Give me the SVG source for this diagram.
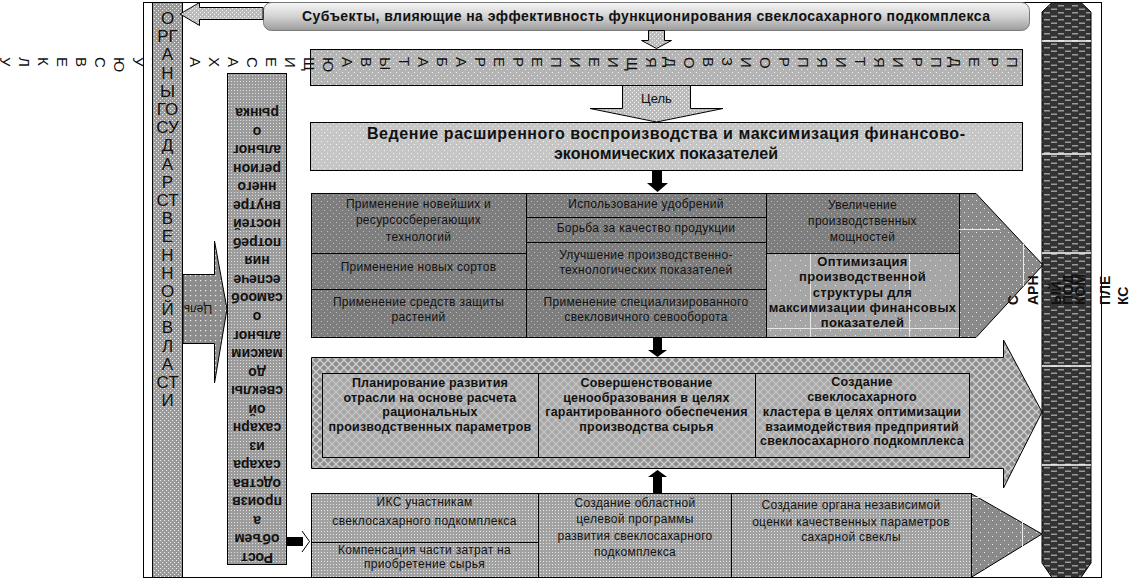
<svg xmlns="http://www.w3.org/2000/svg" width="1131" height="579" viewBox="0 0 1131 579">
<defs>
<pattern id="pCol" width="4" height="4" patternUnits="userSpaceOnUse"><rect width="4" height="4" fill="#9a9a9a"/><rect width="1" height="1" fill="#eeeeee"/><rect x="2" y="2" width="1" height="1" fill="#eeeeee"/></pattern>
<pattern id="pBox" width="3" height="3" patternUnits="userSpaceOnUse"><rect width="3" height="3" fill="#9c9c9c"/><rect width="1" height="1" fill="#dddddd"/></pattern>
<pattern id="pTop" width="6" height="6" patternUnits="userSpaceOnUse"><rect width="6" height="6" fill="#b4b4b4"/><rect width="1" height="1" fill="#f0f0f0"/><rect x="3" y="3" width="1" height="1" fill="#f0f0f0"/></pattern>
<pattern id="pGoal" width="6" height="6" patternUnits="userSpaceOnUse"><rect width="6" height="6" fill="#c6c6c6"/><rect width="1" height="1" fill="#f4f4f4"/><rect x="3" y="3" width="1" height="1" fill="#f4f4f4"/></pattern>
<pattern id="pR1" width="6" height="6" patternUnits="userSpaceOnUse"><rect width="6" height="6" fill="#7e7e7e"/><rect width="1" height="1" fill="#bcbcbc"/><rect x="3" y="3" width="1" height="1" fill="#bcbcbc"/></pattern>
<pattern id="pOpt" width="10" height="10" patternUnits="userSpaceOnUse"><rect width="10" height="10" fill="#a6a6a6"/><rect width="1" height="1" fill="#eeeeee"/><rect x="5" y="5" width="1" height="1" fill="#eeeeee"/></pattern>
<pattern id="pHead" width="8" height="8" patternUnits="userSpaceOnUse"><rect width="8" height="8" fill="#8a8a8a"/><rect width="1" height="1" fill="#eeeeee"/><rect x="4" y="4" width="1" height="1" fill="#eeeeee"/></pattern>
<pattern id="pChk" width="8" height="8" patternUnits="userSpaceOnUse"><rect width="8" height="8" fill="#8e8e8e"/><path d="M0 0L8 8M8 0L0 8" stroke="#d0d0d0" stroke-width="1.3"/></pattern>
<pattern id="pChk2" width="8" height="8" patternUnits="userSpaceOnUse"><rect width="8" height="8" fill="#a8a8a8"/><path d="M0 0L8 8M8 0L0 8" stroke="#c8c8c8" stroke-width="1.1"/></pattern>
<pattern id="pR3" width="3" height="3" patternUnits="userSpaceOnUse"><rect width="3" height="3" fill="#a2a2a2"/><rect width="1" height="1" fill="#e6e6e6"/></pattern>
<pattern id="pLight" width="4" height="4" patternUnits="userSpaceOnUse"><rect width="4" height="4" fill="#bcbcbc"/><rect width="1" height="1" fill="#f4f4f4"/><rect x="2" y="2" width="1" height="1" fill="#f4f4f4"/></pattern>
<pattern id="pArr" width="5" height="5" patternUnits="userSpaceOnUse"><rect width="5" height="5" fill="#8c8c8c"/><rect width="1.2" height="1.2" fill="#f0f0f0"/></pattern>
<pattern id="pDark" width="14" height="7" patternUnits="userSpaceOnUse"><rect width="14" height="7" fill="#333333"/><rect x="1" y="1.5" width="6" height="1.5" fill="#9a9a9a"/><rect x="8" y="5" width="6" height="1.5" fill="#9a9a9a"/></pattern>
<linearGradient id="gBan" x1="0" y1="0" x2="0" y2="1"><stop offset="0" stop-color="#f6f6f6"/><stop offset="0.5" stop-color="#d2d2d2"/><stop offset="1" stop-color="#9c9c9c"/></linearGradient>
</defs>
<style>
.t{font-family:"Liberation Sans",Arial,sans-serif;fill:#111}
.c{text-anchor:middle}
.n{font-size:12px;letter-spacing:0.3px}
.bb{font-weight:bold;font-size:12.5px;letter-spacing:0.2px}
.lb{font-size:14px;font-weight:bold}
.k{stroke:#000;stroke-width:1}
.blk{fill:#000}
</style>
<rect width="1131" height="579" fill="#fff"/>
<rect x="143.5" y="2.5" width="958" height="575" fill="#fff" stroke="#000"/>

<g id="enterprises">
<rect x="310.5" y="49.5" width="712" height="36" fill="url(#pTop)" class="k"/>
<text class="t" y="57" font-size="15" rotate="90" x="1007 988 969 950 931 912 893 874 855 836 817 798 779 760 741 722 703 684 665 646 627 608 589 570 551 532 513 494 475 456 437 418 399 380 361 342 323 304 285 266 247 228 209 190 171 152 133 114 95 76 57 38 19 0">ПРЕДПРИЯТИЯПРОИЗВОДЯЩИЕИПЕРЕРАБАТЫВАЮЩИЕСАХАРНУЮСВЕКЛУ</text>
</g>

<g id="organy">
<rect x="152.5" y="2.5" width="30" height="575" fill="url(#pCol)" class="k"/>
<text class="t c" x="167.5" y="24" font-size="17"><tspan x="167.5">О</tspan><tspan x="167.5" dy="18.2">РГ</tspan><tspan x="167.5" dy="18.2">А</tspan><tspan x="167.5" dy="18.2">Н</tspan><tspan x="167.5" dy="18.2">Ы</tspan><tspan x="167.5" dy="18.2">ГО</tspan><tspan x="167.5" dy="18.2">СУ</tspan><tspan x="167.5" dy="18.2">Д</tspan><tspan x="167.5" dy="18.2">А</tspan><tspan x="167.5" dy="18.2">Р</tspan><tspan x="167.5" dy="18.2">СТ</tspan><tspan x="167.5" dy="18.2">В</tspan><tspan x="167.5" dy="18.2">Е</tspan><tspan x="167.5" dy="18.2">Н</tspan><tspan x="167.5" dy="18.2">Н</tspan><tspan x="167.5" dy="18.2">О</tspan><tspan x="167.5" dy="18.2">Й</tspan><tspan x="167.5" dy="18.2">В</tspan><tspan x="167.5" dy="18.2">Л</tspan><tspan x="167.5" dy="18.2">А</tspan><tspan x="167.5" dy="18.2">СТ</tspan><tspan x="167.5" dy="18.2">И</tspan></text>
</g>

<g id="subjects">
<rect x="263.5" y="2.5" width="766" height="28" rx="8" fill="url(#gBan)" stroke="#7a7a7a"/>
<text class="t" x="302" y="21" font-size="14" font-weight="bold" textLength="688" lengthAdjust="spacing">Субъекты, влияющие на эффективность функционирования свеклосахарного подкомплекса</text>
</g>

<g id="rost">
<rect x="227.5" y="73.5" width="59" height="491" fill="url(#pBox)" class="k"/>
<text class="t c" font-size="14" font-weight="bold" transform="rotate(180 257 334.5)"><tspan x="257" y="116">Рост</tspan><tspan x="257" dy="18.54">объем</tspan><tspan x="257" dy="18.54">а</tspan><tspan x="257" dy="18.54">произв</tspan><tspan x="257" dy="18.54">одства</tspan><tspan x="257" dy="18.54">сахара</tspan><tspan x="257" dy="18.54">из</tspan><tspan x="257" dy="18.54">сахарн</tspan><tspan x="257" dy="18.54">ой</tspan><tspan x="257" dy="18.54">свеклы</tspan><tspan x="257" dy="18.54">до</tspan><tspan x="257" dy="18.54">максим</tspan><tspan x="257" dy="18.54">альног</tspan><tspan x="257" dy="18.54">о</tspan><tspan x="257" dy="18.54">самооб</tspan><tspan x="257" dy="18.54">еспече</tspan><tspan x="257" dy="18.54">ния</tspan><tspan x="257" dy="18.54">потреб</tspan><tspan x="257" dy="18.54">ностей</tspan><tspan x="257" dy="18.54">внутре</tspan><tspan x="257" dy="18.54">ннего</tspan><tspan x="257" dy="18.54">регион</tspan><tspan x="257" dy="18.54">альног</tspan><tspan x="257" dy="18.54">о</tspan><tspan x="257" dy="18.54">рынка</tspan></text>
</g>

<g id="goal">
<rect x="310.5" y="122.5" width="712" height="48" fill="url(#pGoal)" class="k"/>
<text class="t" x="367" y="139" font-size="16" font-weight="bold" textLength="598" lengthAdjust="spacing">Ведение расширенного воспроизводства и максимизация финансово-</text>
<text class="t c" x="666" y="159" font-size="16" font-weight="bold">экономических показателей</text>
</g>

<g id="row1">
<polygon points="311.5,193.5 976,193.5 1043,265 976,337.5 311.5,337.5" fill="url(#pHead)" class="k"/>
<rect x="311.5" y="193.5" width="215" height="60" fill="url(#pR1)" class="k"/>
<rect x="311.5" y="253.5" width="215" height="36" fill="url(#pR1)" class="k"/>
<rect x="311.5" y="289.5" width="215" height="48" fill="url(#pR1)" class="k"/>
<rect x="526.5" y="193.5" width="240" height="24" fill="url(#pR1)" class="k"/>
<rect x="526.5" y="217.5" width="240" height="25" fill="url(#pR1)" class="k"/>
<rect x="526.5" y="242.5" width="240" height="47" fill="url(#pR1)" class="k"/>
<rect x="526.5" y="289.5" width="240" height="48" fill="url(#pR1)" class="k"/>
<rect x="766.5" y="193.5" width="193" height="60" fill="url(#pR1)" class="k"/>
<rect x="766.5" y="253.5" width="193" height="84" fill="url(#pOpt)" class="k"/>
<path d="M810.5 254V337M909.5 254V337M767 328.5H959M959 229.5H1000M1023.5 244V286" stroke="#e8e8e8" stroke-width="1" fill="none"/>
<text class="t c n"><tspan x="418.5" y="208">Применение новейших и</tspan><tspan x="418.5" y="224">ресурсосберегающих</tspan><tspan x="418.5" y="241">технологий</tspan><tspan x="418.5" y="271">Применение новых сортов</tspan><tspan x="418.5" y="306">Применение средств защиты</tspan><tspan x="418.5" y="321">растений</tspan></text>
<text class="t c n"><tspan x="646" y="208">Использование удобрений</tspan><tspan x="646" y="232">Борьба за качество продукции</tspan><tspan x="646" y="259">Улучшение производственно-</tspan><tspan x="646" y="274">технологических показателей</tspan><tspan x="646" y="306">Применение специализированного</tspan><tspan x="646" y="321">свекловичного севооборота</tspan></text>
<text class="t c n"><tspan x="862.5" y="209">Увеличение</tspan><tspan x="862.5" y="225">производственных</tspan><tspan x="862.5" y="241">мощностей</tspan></text>
<text class="t c" font-size="13" font-weight="bold" letter-spacing="0.3"><tspan x="862.5" y="266">Оптимизация</tspan><tspan x="862.5" y="281">производственной</tspan><tspan x="862.5" y="296.5">структуры для</tspan><tspan x="862.5" y="312">максимизации финансовых</tspan><tspan x="862.5" y="327">показателей</tspan></text>
</g>

<g id="row2">
<polygon points="311.5,357.5 1003.5,357.5 1003.5,340 1042,412 1003.5,488 1003.5,468.5 311.5,468.5" fill="url(#pChk)" class="k"/>
<rect x="322.5" y="373.5" width="647" height="84" fill="url(#pChk2)" class="k"/>
<path d="M538.5 374V457M755.5 374V457" class="k"/>
<text class="t c bb"><tspan x="430" y="387">Планирование развития</tspan><tspan x="430" y="401.5">отрасли на основе расчета</tspan><tspan x="430" y="416">рациональных</tspan><tspan x="430" y="430.5">производственных параметров</tspan></text>
<text class="t c bb"><tspan x="646.5" y="387">Совершенствование</tspan><tspan x="646.5" y="401.5">ценообразования в целях</tspan><tspan x="646.5" y="416">гарантированного обеспечения</tspan><tspan x="646.5" y="430.5">производства сырья</tspan></text>
<text class="t c bb"><tspan x="862" y="386">Создание</tspan><tspan x="862" y="400.5">свеклосахарного</tspan><tspan x="862" y="416">кластера в целях оптимизации</tspan><tspan x="862" y="430.5">взаимодействия предприятий</tspan><tspan x="862" y="445">свеклосахарного подкомплекса</tspan></text>
</g>

<g id="row3">
<polygon points="311.5,493.5 971,493.5 1042,534 971,577.5 311.5,577.5" fill="url(#pHead)" class="k"/>
<rect x="311.5" y="493.5" width="227" height="49" fill="url(#pR3)" class="k"/>
<rect x="311.5" y="542.5" width="227" height="35" fill="url(#pR3)" class="k"/>
<rect x="538.5" y="493.5" width="193" height="84" fill="url(#pR3)" class="k"/>
<rect x="731.5" y="493.5" width="240" height="84" fill="url(#pR3)" class="k"/>
<path d="M1022.5 520V548M972 497.5H990" stroke="#eeeeee" fill="none"/>
<text class="t c n"><tspan x="424.5" y="506">ИКС участникам</tspan><tspan x="424.5" y="525">свеклосахарного подкомплекса</tspan><tspan x="424.5" y="554">Компенсация части затрат на</tspan><tspan x="424.5" y="568">приобретение сырья</tspan></text>
<text class="t c n"><tspan x="635" y="507">Создание областной</tspan><tspan x="635" y="523">целевой программы</tspan><tspan x="635" y="539.5">развития свеклосахарного</tspan><tspan x="635" y="556">подкомплекса</tspan></text>
<text class="t c n"><tspan x="851" y="509">Создание органа независимой</tspan><tspan x="851" y="525.5">оценки качественных параметров</tspan><tspan x="851" y="541">сахарной свеклы</tspan></text>
</g>

<g id="complex">
<polygon points="1052,2.5 1081,2.5 1091,12 1091,563 1081,577.5 1052,577.5 1042,563 1042,12" fill="url(#pDark)" stroke="#000"/>
<path d="M1042 41H1091M1042 154H1091M1042 253H1091M1042 366H1091M1042 465H1091" stroke="#fff" stroke-width="1.5"/>
<text class="t lb" transform="translate(1018 305) rotate(-90)">С</text>
<text class="t lb" transform="translate(1038 305) rotate(-90)">АРН</text>
<text class="t lb" transform="translate(1061 305) rotate(-90)">ЫЙ</text>
<text class="t lb" transform="translate(1073 305) rotate(-90)">ПОД</text>
<text class="t lb" transform="translate(1085 305) rotate(-90)">КОМ</text>
<text class="t lb" transform="translate(1110 305) rotate(-90)">ПЛЕ</text>
<text class="t lb" transform="translate(1128 305) rotate(-90)">КС</text>
</g>

<g id="connectors">
<polygon points="263,7.5 199.5,7.5 199.5,2.5 180,14 199.5,25.5 199.5,19.5 263,19.5" fill="url(#pLight)" class="k"/>
<polygon points="648.5,30.5 664.5,30.5 664.5,40.5 671.5,40.5 656.5,48.5 641.5,40.5 648.5,40.5" fill="url(#pLight)" class="k"/>
<polygon points="622.5,85.5 690.5,85.5 690.5,108.5 723,108.5 656.5,122 590,108.5 622.5,108.5" fill="url(#pLight)" class="k"/>
<text class="t c" x="656.5" y="103" font-size="13" fill="#333">Цель</text>
<polygon points="183,274.5 214.5,274.5 214.5,241 227,309 214.5,383 214.5,343.5 183,343.5" fill="url(#pArr)" class="k"/>
<text class="t c" font-size="12" transform="rotate(180 198 309)" x="198" y="313">Цель</text>
<rect x="652" y="170" width="10" height="13" class="blk"/>
<polygon points="647,183 668,183 657.5,192" class="blk"/>
<rect x="653" y="338" width="9" height="12" class="blk"/>
<polygon points="648,350 667,350 657.5,357" class="blk"/>
<polygon points="648,477 667,477 657.5,470" class="blk"/>
<rect x="653" y="477" width="9" height="16" class="blk"/>
<rect x="286" y="537" width="17" height="9" class="blk"/>
<path d="M302 531L309.5 541.5L302 552" fill="none" stroke="#000"/>
</g>
</svg>
